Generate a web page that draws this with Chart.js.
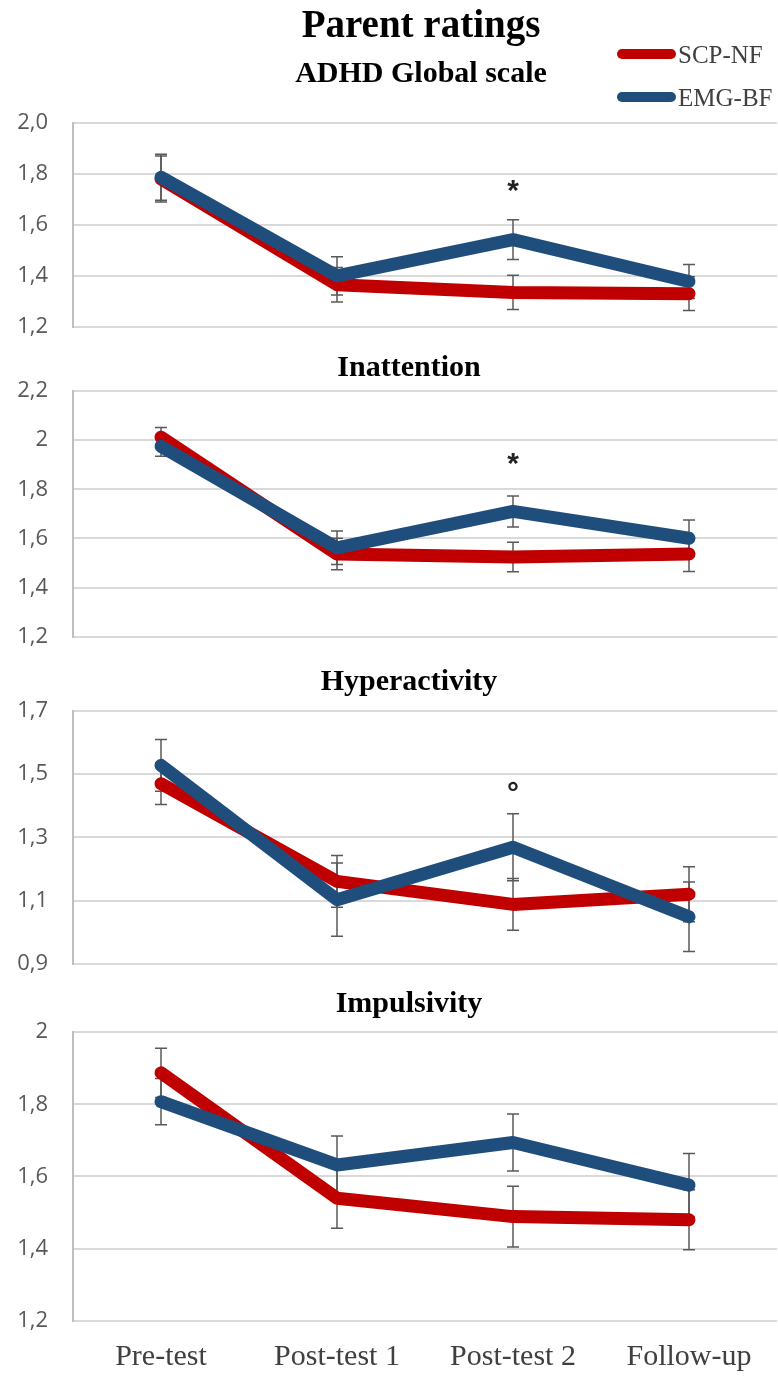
<!DOCTYPE html>
<html>
<head>
<meta charset="utf-8">
<script src="https://cdn.jsdelivr.net/npm/chart.js@4.4.1/dist/chart.umd.min.js"></script>
<style>
  html, body { margin: 0; padding: 0; background: #fff; }
  body { width: 778px; height: 1377px; position: relative; overflow: hidden; }
  canvas { position: absolute; left: 0; }
</style>
</head>
<body>
<canvas id="p1" width="778" height="365" style="top:0px"></canvas>
<canvas id="p2" width="778" height="325" style="top:350px"></canvas>
<canvas id="p3" width="778" height="340" style="top:662px"></canvas>
<canvas id="p4" width="778" height="389" style="top:988px"></canvas>
<script>
const timePoints = ['Pre-test', 'Post-test 1', 'Post-test 2', 'Follow-up'];
const seriesNames = ['SCP-NF', 'EMG-BF'];
const seriesColors = ['#C00000', '#1F4E7D'];

// ADHD Global scale
const globalScp = [1.78, 1.365, 1.335, 1.33];
const globalScpErr = [0.09, 0.068, 0.067, 0.066];
const globalEmg = [1.787, 1.40, 1.542, 1.378];
const globalEmgErr = [0.09, 0.075, 0.078, 0.067];
const globalTicks = [1.2, 1.4, 1.6, 1.8, 2.0];
const globalTickLabels = ['1,2', '1,4', '1,6', '1,8', '2,0'];
const globalSig = ['', '', '*', ''];
const globalSigAt = [null, null, 1.755, null];

// Inattention
const inattScp = [2.012, 1.537, 1.525, 1.537];
const inattScpErr = [0.04, 0.064, 0.06, 0.071];
const inattEmg = [1.975, 1.562, 1.71, 1.601];
const inattEmgErr = [0.04, 0.068, 0.063, 0.074];
const inattTicks = [1.2, 1.4, 1.6, 1.8, 2.0, 2.2];
const inattTickLabels = ['1,2', '1,4', '1,6', '1,8', '2', '2,2'];
const inattSig = ['', '', '*', ''];
const inattSigAt = [null, null, 1.926, null];

// Hyperactivity
const hyperScp = [1.47, 1.161, 1.088, 1.12];
const hyperScpErr = [0.066, 0.082, 0.082, 0.087];
const hyperEmg = [1.528, 1.103, 1.269, 1.049];
const hyperEmgErr = [0.082, 0.116, 0.106, 0.11];
const hyperTicks = [0.9, 1.1, 1.3, 1.5, 1.7];
const hyperTickLabels = ['0,9', '1,1', '1,3', '1,5', '1,7'];
const hyperSig = ['', '', '°', ''];
const hyperSigAt = [null, null, 1.453, null];

// Impulsivity
const impulsScp = [1.887, 1.54, 1.489, 1.48];
const impulsScpErr = [0.068, 0.083, 0.084, 0.083];
const impulsEmg = [1.807, 1.632, 1.694, 1.576];
const impulsEmgErr = [0.064, 0.08, 0.079, 0.088];
const impulsTicks = [1.2, 1.4, 1.6, 1.8, 2.0];
const impulsTickLabels = ['1,2', '1,4', '1,6', '1,8', '2'];

// error bars, drawn under the lines
const errorBars = {
    id: 'errorBars',
    beforeDatasetsDraw(chart) {
        const ctx = chart.ctx;
        const y = chart.scales.y;
        ctx.save();
        ctx.strokeStyle = '#595959';
        ctx.lineWidth = 1.5;
        chart.data.datasets.forEach((ds, di) => {
            const meta = chart.getDatasetMeta(di);
            meta.data.forEach((pt, i) => {
                const top = y.getPixelForValue(ds.data[i] + ds.errors[i]);
                const bot = y.getPixelForValue(ds.data[i] - ds.errors[i]);
                ctx.beginPath();
                ctx.moveTo(pt.x, top); ctx.lineTo(pt.x, bot);
                ctx.moveTo(pt.x - 6, top); ctx.lineTo(pt.x + 6, top);
                ctx.moveTo(pt.x - 6, bot); ctx.lineTo(pt.x + 6, bot);
                ctx.stroke();
            });
        });
        ctx.restore();
    }
};

// significance marks + panel headings
function panelText(headings, sig, sigAt, withLegend) {
    return {
        id: 'panelText',
        afterDraw(chart) {
            const ctx = chart.ctx;
            ctx.save();
            ctx.fillStyle = '#000';
            ctx.textAlign = 'center';
            ctx.textBaseline = 'alphabetic';
            headings.forEach(h => {
                ctx.font = 'bold ' + h.size + 'px "Liberation Serif"';
                ctx.fillText(h.text, h.x, h.y);
            });

            const meta = chart.getDatasetMeta(0);
            ctx.font = 'bold 30px "Liberation Sans"';
            ctx.fillStyle = '#222';
            ctx.textBaseline = 'middle';
            sig.forEach((s, i) => {
                if (!s) return;
                const py = chart.scales.y.getPixelForValue(sigAt[i]);
                ctx.fillText(s, meta.data[i].x, py + 6);
            });

            if (withLegend) {
                ctx.lineCap = 'round';
                ctx.lineWidth = 10;
                ctx.textAlign = 'left';
                ctx.textBaseline = 'alphabetic';
                ctx.font = '25px "Liberation Serif"';
                seriesNames.forEach((name, i) => {
                    const ly = 54 + i * 43;
                    ctx.strokeStyle = seriesColors[i];
                    ctx.beginPath();
                    ctx.moveTo(622, ly);
                    ctx.lineTo(671, ly);
                    ctx.stroke();
                    ctx.fillStyle = '#404040';
                    ctx.fillText(name, 678, ly + 9);
                });
            }
            ctx.restore();
        }
    };
}

function makePanel(id, scp, scpErr, emg, emgErr, ticks, tickLabels, pad, showX, textPlugin) {
    const xAxis = {
        display: showX,
        offset: true,
        grid: { display: false, drawTicks: false },
        border: { display: false },
        ticks: {
            font: { family: 'Liberation Serif', size: 30 },
            color: '#404040',
            padding: 18
        }
    };
    if (showX) {
        xAxis.afterFit = axis => { axis.height = 56; };
    }
    return new Chart(document.getElementById(id), {
        type: 'line',
        data: {
            labels: timePoints,
            datasets: [{
                label: seriesNames[0],
                data: scp,
                errors: scpErr,
                borderColor: seriesColors[0],
                order: 1
            }, {
                label: seriesNames[1],
                data: emg,
                errors: emgErr,
                borderColor: seriesColors[1],
                order: 0
            }]
        },
        options: {
            responsive: false,
            animation: false,
            devicePixelRatio: 1,
            layout: { padding: pad },
            elements: {
                line: { borderWidth: 13, tension: 0, borderCapStyle: 'round', borderJoinStyle: 'round' },
                point: { radius: 0, hoverRadius: 0 }
            },
            plugins: {
                legend: { display: false },
                title: { display: false },
                tooltip: { enabled: false }
            },
            scales: {
                x: xAxis,
                y: {
                    min: ticks[0],
                    max: ticks[ticks.length - 1],
                    afterBuildTicks: axis => { axis.ticks = ticks.map(v => ({ value: v })); },
                    afterFit: axis => { axis.width = 73; },
                    ticks: {
                        callback: (v, i) => tickLabels[i],
                        font: { family: 'Open Sans', size: 22 },
                        color: '#595959',
                        padding: 25
                    },
                    grid: { color: '#d9d9d9', lineWidth: 2, drawTicks: false },
                    border: { display: true, color: '#bfbfbf', width: 2 }
                }
            }
        },
        plugins: [errorBars, textPlugin]
    });
}

makePanel('p1', globalScp, globalScpErr, globalEmg, globalEmgErr, globalTicks, globalTickLabels,
    { top: 123, bottom: 17, left: 0, right: 1 }, false,
    panelText([
        { text: 'Parent ratings', size: 39, x: 421, y: 37 },
        { text: 'ADHD Global scale', size: 30, x: 421, y: 82 }
    ], globalSig, globalSigAt, true));

makePanel('p2', inattScp, inattScpErr, inattEmg, inattEmgErr, inattTicks, inattTickLabels,
    { top: 41, bottom: 14, left: 0, right: 1 }, false,
    panelText([{ text: 'Inattention', size: 30, x: 409, y: 26 }], inattSig, inattSigAt, false));

makePanel('p3', hyperScp, hyperScpErr, hyperEmg, hyperEmgErr, hyperTicks, hyperTickLabels,
    { top: 49, bottom: 15, left: 0, right: 1 }, false,
    panelText([{ text: 'Hyperactivity', size: 30, x: 409, y: 28 }], hyperSig, hyperSigAt, false));

makePanel('p4', impulsScp, impulsScpErr, impulsEmg, impulsEmgErr, impulsTicks, impulsTickLabels,
    { top: 44, bottom: 0, left: 0, right: 1 }, true,
    panelText([{ text: 'Impulsivity', size: 30, x: 409, y: 24 }], [], [], false));
</script>
</body>
</html>
